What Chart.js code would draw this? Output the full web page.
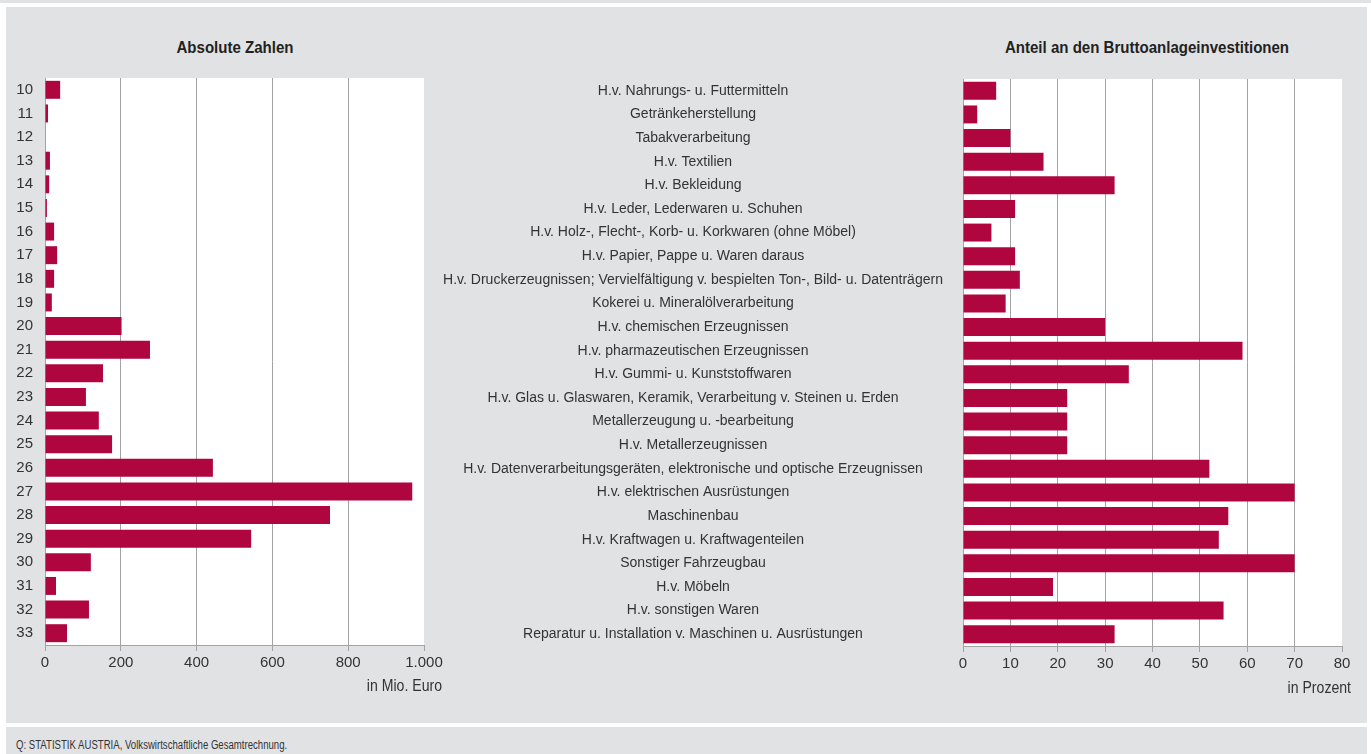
<!DOCTYPE html>
<html lang="de">
<head>
<meta charset="utf-8">
<title>Bruttoanlageinvestitionen nach Branchen</title>
<script src="https://cdn.jsdelivr.net/npm/chart.js@4.4.1/dist/chart.umd.min.js"></script>
<style>
  html, body { margin: 0; padding: 0; background: #fff; }
  body {
    position: relative; width: 1371px; height: 754px; overflow: hidden;
    font-family: 'Liberation Sans', Arial, sans-serif;
    color: #333;
  }
  .band { position: absolute; background: #e1e2e4; }
  .title { position: absolute; font-weight: bold; font-size: 16px; color: #222; white-space: nowrap;
           transform: translate(-50%, -50%) scaleX(0.94); }
  .unit { position: absolute; font-size: 16px; color: #333; white-space: nowrap;
          transform-origin: 100% 50%; transform: translate(-100%, -50%) scaleX(0.88); }
  .source { position: absolute; left: 16px; top: 745px; font-size: 12px; color: #333; white-space: nowrap;
            transform-origin: 0 50%; transform: translateY(-50%) scaleX(0.8); }
  .chart-box { position: absolute; }
</style>
</head>
<body>
<div class="band" style="left:0; top:0; width:1371px; height:3px;"></div>
<div class="band" style="left:6px; top:7px; width:1361px; height:716px;"></div>
<div class="band" style="left:6px; top:727px; width:1361px; height:27px;"></div>

<div class="title" style="left:235px; top:48px;">Absolute Zahlen</div>
<div class="title" style="left:1147px; top:48px;">Anteil an den Bruttoanlageinvestitionen</div>

<div class="chart-box" style="left:0; top:60px; width:460px; height:650px;"><canvas id="absChart"></canvas></div>
<div class="chart-box" style="left:430px; top:60px; width:937px; height:650px;"><canvas id="shareChart"></canvas></div>

<div class="unit" style="left:442px; top:686px;">in Mio. Euro</div>
<div class="unit" style="left:1351px; top:688px;">in Prozent</div>

<div class="source">Q: STATISTIK AUSTRIA, Volkswirtschaftliche Gesamtrechnung.</div>

<script>
// ÖNACE-Abteilungen (Sachgütererzeugung)
const codes = ['10','11','12','13','14','15','16','17','18','19','20','21',
               '22','23','24','25','26','27','28','29','30','31','32','33'];

const branches = [
  'H.v. Nahrungs- u. Futtermitteln',
  'Getränkeherstellung',
  'Tabakverarbeitung',
  'H.v. Textilien',
  'H.v. Bekleidung',
  'H.v. Leder, Lederwaren u. Schuhen',
  'H.v. Holz-, Flecht-, Korb- u. Korkwaren (ohne Möbel)',
  'H.v. Papier, Pappe u. Waren daraus',
  'H.v. Druckerzeugnissen; Vervielfältigung v. bespielten Ton-, Bild- u. Datenträgern',
  'Kokerei u. Mineralölverarbeitung',
  'H.v. chemischen Erzeugnissen',
  'H.v. pharmazeutischen Erzeugnissen',
  'H.v. Gummi- u. Kunststoffwaren',
  'H.v. Glas u. Glaswaren, Keramik, Verarbeitung v. Steinen u. Erden',
  'Metallerzeugung u. -bearbeitung',
  'H.v. Metallerzeugnissen',
  'H.v. Datenverarbeitungsgeräten, elektronische und optische Erzeugnissen',
  'H.v. elektrischen Ausrüstungen',
  'Maschinenbau',
  'H.v. Kraftwagen u. Kraftwagenteilen',
  'Sonstiger Fahrzeugbau',
  'H.v. Möbeln',
  'H.v. sonstigen Waren',
  'Reparatur u. Installation v. Maschinen u. Ausrüstungen'
];

// in Mio. Euro
const absValues = [40, 8, 0, 13, 11, 5, 24, 32, 24, 18, 202, 277,
                   153, 108, 142, 177, 443, 969, 752, 544, 121, 29, 116, 58];
// in Prozent der Bruttoanlageinvestitionen
const shareValues = [7, 3, 10, 17, 32, 11, 6, 11, 12, 9, 30, 59,
                     35, 22, 22, 22, 52, 70, 56, 54, 70, 19, 55, 32];

const absTicks = [0, 200, 400, 600, 800, 1000];
const shareTicks = [0, 10, 20, 30, 40, 50, 60, 70, 80];

const FONT = "'Liberation Sans', Arial, sans-serif";
const BAR = '#b00640';
const GRID = '#a3a3a3';
const TEXT = '#333';

function formatDe(v) {
  return String(v).replace(/\B(?=(\d{3})+(?!\d))/g, '.');
}

// white plot background, rest stays grey
const plotBg = {
  id: 'plotBg',
  beforeDraw(chart) {
    const a = chart.chartArea;
    chart.ctx.save();
    chart.ctx.fillStyle = '#fff';
    chart.ctx.fillRect(a.left, a.top, a.right - a.left, a.bottom - a.top);
    chart.ctx.restore();
  }
};

function xAxis(tickValues, max) {
  return {
    type: 'linear',
    min: 0,
    max: max,
    afterBuildTicks: s => { s.ticks = tickValues.map(v => ({ value: v })); },
    afterFit: s => { s.height = 30; },
    grid: {
      color: c => (c.tick && (c.tick.value === 0 || c.tick.value === max)) ? 'rgba(0,0,0,0)' : GRID,
      tickColor: GRID,
      tickLength: 6,
      lineWidth: 1
    },
    border: { display: true, color: GRID, width: 1 },
    ticks: {
      color: TEXT,
      padding: 3,
      maxRotation: 0,
      autoSkip: false,
      font: { family: FONT, size: 15 },
      callback: v => formatDe(v)
    }
  };
}

// category axis: the gap to the labels goes into an invisible tick length,
// so it does not add to the axis' top/bottom padding
function yAxis(width, gap, size, cross) {
  return {
    afterFit: s => { s.width = width; },
    grid: { display: false, drawTicks: true, tickLength: gap },
    border: { display: true, color: GRID, width: 1 },
    ticks: {
      color: TEXT,
      crossAlign: cross,
      padding: 0,
      autoSkip: false,
      font: { family: FONT, size: size }
    }
  };
}

function barDataset(values) {
  return {
    data: values,
    backgroundColor: BAR,
    borderWidth: 0,
    barPercentage: 0.76,
    categoryPercentage: 1
  };
}

const commonOpts = {
  indexAxis: 'y',
  responsive: true,
  maintainAspectRatio: false,
  animation: false,
  events: [],
  plugins: { legend: { display: false }, tooltip: { enabled: false } }
};

// left: absolute numbers
new Chart(document.getElementById('absChart'), {
  type: 'bar',
  data: { labels: codes, datasets: [barDataset(absValues)] },
  options: Object.assign({}, commonOpts, {
    layout: { padding: { left: 0, right: 36, top: 18, bottom: 35 } },
    scales: {
      x: xAxis(absTicks, 1000),
      y: yAxis(45, 12, 15, 'near')
    }
  }),
  plugins: [plotBg]
});

// right: share, category names sit centred between the two panels
const labelSize = 14;
const measure = document.createElement('canvas').getContext('2d');
measure.font = labelSize + 'px ' + FONT;
const widest = Math.max(...branches.map(b => measure.measureText(b).width));
const yAxisWidth = 533;
const labelCentre = 263; // distance from canvas left
const labelGap = Math.max(2, yAxisWidth - labelCentre - widest / 2);

new Chart(document.getElementById('shareChart'), {
  type: 'bar',
  data: { labels: branches, datasets: [barDataset(shareValues)] },
  options: Object.assign({}, commonOpts, {
    layout: { padding: { left: 0, right: 25, top: 19, bottom: 34 } },
    scales: {
      x: xAxis(shareTicks, 80),
      y: yAxis(yAxisWidth, labelGap, labelSize, 'center')
    }
  }),
  plugins: [plotBg]
});
</script>
</body>
</html>
